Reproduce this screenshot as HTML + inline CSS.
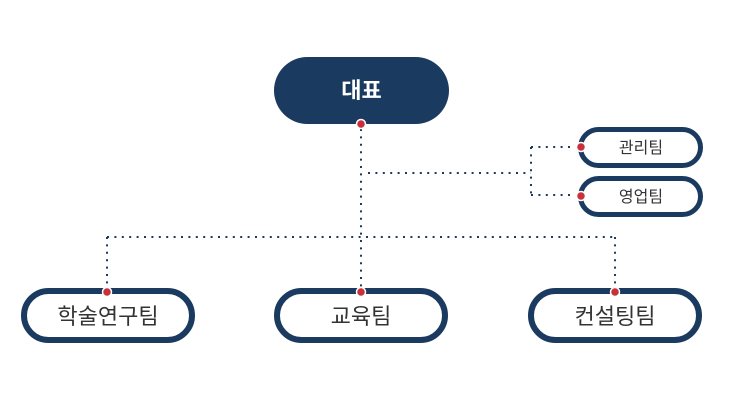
<!DOCTYPE html>
<html><head><meta charset="utf-8"><style>
html,body{margin:0;padding:0;background:#fff;}
body{width:731px;height:400px;overflow:hidden;}
svg{display:block;}
text{font-family:"Liberation Sans","Noto Sans CJK KR",sans-serif;}
</style></head><body>
<svg width="731" height="400" viewBox="0 0 731 400" xmlns="http://www.w3.org/2000/svg">
<g stroke="#1b3a5f" stroke-width="2" stroke-dasharray="2 5.4" fill="none">
<line x1="361" y1="129" x2="361" y2="288"/>
<line x1="368" y1="173" x2="531" y2="173"/>
<line x1="531" y1="147" x2="531" y2="196"/>
<line x1="531" y1="147" x2="575" y2="147"/>
<line x1="531" y1="195" x2="575" y2="195"/>
<line x1="107" y1="237" x2="616" y2="237"/>
<line x1="107" y1="237" x2="107" y2="288"/>
<line x1="615" y1="237" x2="615" y2="288"/>
</g>
<rect x="274" y="57" width="175" height="67" rx="33.5" fill="#1b3a5f"/>
<text x="361.5" y="98" text-anchor="middle" font-size="22" font-weight="bold" fill="#fff">대표</text>

<g fill="#fff" stroke="#1b3a5f" stroke-width="5">
<rect x="580.5" y="129.5" width="120" height="36" rx="18"/>
<rect x="580.5" y="178.5" width="120" height="36" rx="18"/>
</g>
<text x="641" y="153" text-anchor="middle" font-size="16" fill="#333">관리팀</text>
<text x="641" y="202" text-anchor="middle" font-size="16" fill="#333">영업팀</text>

<g fill="#fff" stroke="#1b3a5f" stroke-width="6">
<rect x="24" y="291" width="168" height="49" rx="24.5"/>
<rect x="277" y="291" width="168" height="49" rx="24.5"/>
<rect x="531" y="291" width="168" height="49" rx="24.5"/>
</g>
<g font-size="22" fill="#333" text-anchor="middle">
<text x="108" y="324">학술연구팀</text>
<text x="361" y="324">교육팀</text>
<text x="615" y="324">컨설팅팀</text>
</g>

<g fill="#c8303a" stroke="#fff" stroke-width="1.5">
<circle cx="361" cy="124" r="4.5"/>
<circle cx="581" cy="147" r="4.5"/>
<circle cx="581" cy="196" r="4.5"/>
<circle cx="107" cy="292" r="4.5"/>
<circle cx="361" cy="292" r="4.5"/>
<circle cx="615" cy="292" r="4.5"/>
</g>
</svg>
</body></html>
